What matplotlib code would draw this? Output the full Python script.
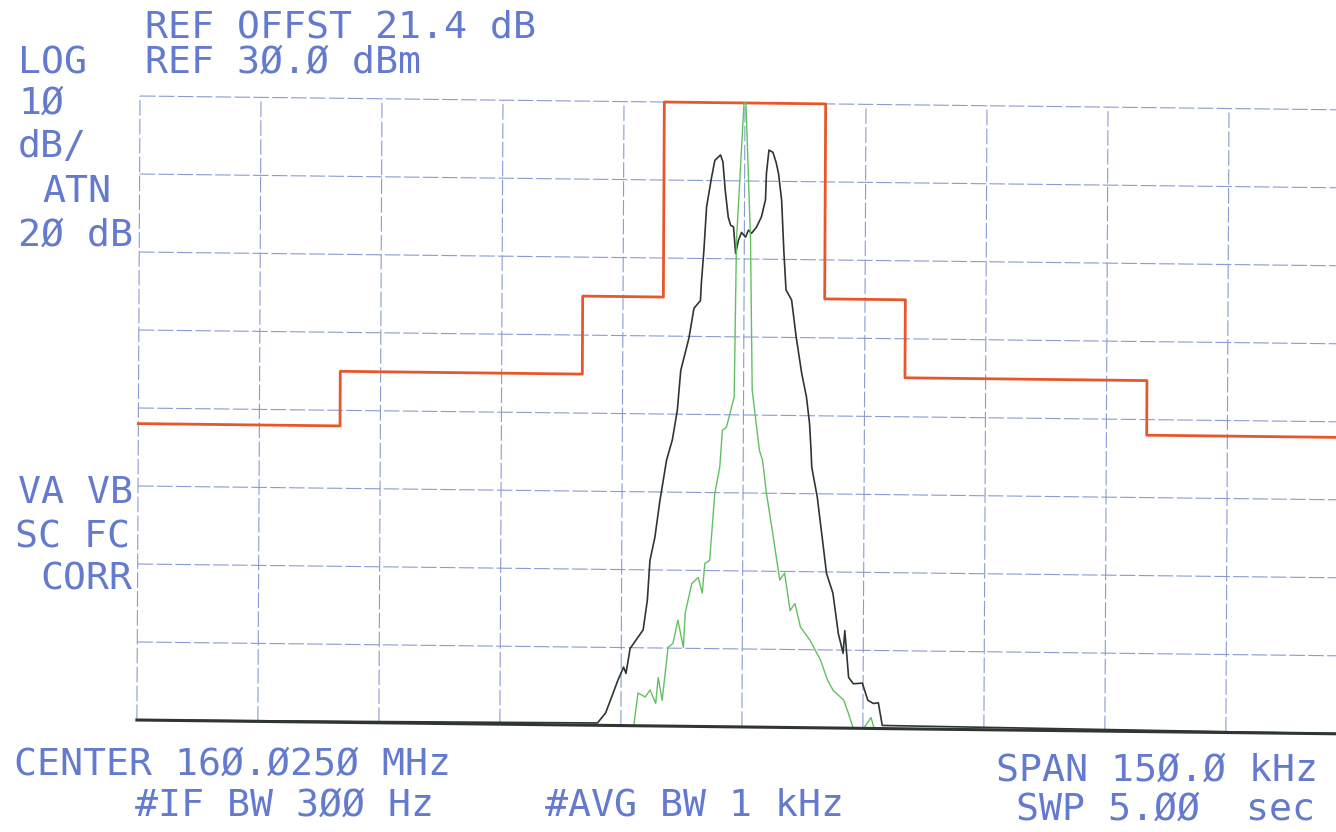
import numpy as np
import matplotlib
matplotlib.use("Agg")
import matplotlib.pyplot as plt
from matplotlib.transforms import Affine2D

# spectrum analyser screen: 150 kHz span, 10 dB/div, ref 30 dBm
mask_edges = [-75, -50, -20, -10, 10, 20, 50, 75]
mask_levels = [-12, -5, 5, 30, 5, -5, -12]

black_f = [-75, -17.9, -16.9, -16.0, -15.4, -14.7, -14.4, -13.9, -12.3, -11.8, -11.5, -10.9,
           -10.3, -9.5, -8.8, -8.2, -7.8, -6.8, -6.2, -5.4, -5.3, -5.0, -4.7, -4.1, -3.7,
           -3.0, -2.7, -2.4, -2.0, -1.7, -1.35, -1.07, -0.72, -0.35, 0.15, 0.51, 0.89, 1.5,
           2.1, 2.6, 2.7, 3.0, 3.5, 3.9, 4.2, 4.6, 4.9, 5.2, 5.9, 6.5, 7.2, 7.8, 8.2, 8.4,
           8.5, 9.2, 10.4, 11.2, 11.9, 12.5, 12.7, 13.2, 13.8, 14.9, 15.6, 16.3, 16.9, 17.4, 75]
black_db = [-50, -49.7, -48.4, -45.9, -44.2, -42.5, -43.3, -40.1, -37.7, -33.9, -28.8, -25.8,
            -21.1, -15.9, -13.3, -9.5, -4.4, -0.2, 3.6, 4.6, 6.8, 11.1, 16.6, 20.4, 22.6,
            23.3, 22.4, 18.8, 15.3, 14.3, 14.1, 10.7, 12.4, 13.4, 12.8, 13.7, 13.3, 14.1,
            15.4, 17.6, 21.0, 24.0, 23.7, 22.4, 21.0, 17.6, 11.2, 6.1, 4.8, 0.0, -4.6, -7.6,
            -11.0, -14.4, -16.6, -20.4, -30.2, -32.7, -37.9, -40.4, -37.5, -43.5, -44.3,
            -44.2, -46.4, -46.8, -46.7, -49.6, -50]

green_f = [-75, -13.4, -12.9, -12.0, -11.4, -10.7, -10.4, -9.9, -9.2, -8.6, -8.0, -7.3, -7.1,
           -6.3, -5.5, -5.0, -4.7, -4.1, -3.5, -2.9, -2.6, -2.1, -1.16, -0.97, -0.12, 0.12,
           0.77, 1.07, 2.0, 2.4, 2.9, 3.7, 4.6, 5.2, 5.9, 6.5, 7.2, 8.4, 9.7, 10.6, 11.3,
           12.6, 13.2, 13.8, 15.1, 16.0, 16.4, 75]
green_db = [-50, -50, -45.8, -46.3, -45.4, -47.1, -43.8, -46.7, -39.9, -39.4, -36.4, -39.9,
            -35.5, -31.7, -30.9, -32.9, -29.1, -28.7, -20.1, -16.7, -12.0, -11.6, -7.7, 12.4,
            30, 30, 12.4, -6.8, -14.5, -15.8, -20.0, -25.1, -31.1, -30.2, -35.0, -34.1,
            -37.1, -38.8, -41.3, -43.9, -45.2, -46.4, -48.1, -50, -50, -48.6, -50, -50]

x_grid = np.arange(-75, 76, 15)
y_grid = np.arange(-50, 31, 10)

W, H = 1336, 832
fig = plt.figure(figsize=(W / 100, H / 100), dpi=100)
ax = fig.add_axes([140 / W, 1 - 720 / H, 1210 / W, 624 / H])
ax.set_xlim(-75, 75)
ax.set_ylim(-50, 30)
ax.axis("off")

# the printout was scanned slightly skewed
x0, y0 = 140, H - 96
skew = Affine2D().translate(-x0, -y0) + \
    Affine2D(np.array([[1, 0.005, 0], [-0.0115, 1, 0], [0, 0, 1]])) + \
    Affine2D().translate(x0, y0)
tr = ax.transData + skew

grid_col = "#8a9bd2"
for x in x_grid:
    ax.plot([x, x], [-50, 30], color=grid_col, lw=0.8, ls=(0, (14, 3)),
            transform=tr, clip_on=False)
for y in y_grid:
    ax.plot([-75, 75], [y, y], color=grid_col, lw=0.8, ls=(0, (14, 3)),
            transform=tr, clip_on=False)

mx = mask_edges
my = mask_levels + [mask_levels[-1]]
ax.plot(mx, my, drawstyle="steps-post", color="#e8562c", lw=2.0,
        transform=tr, clip_on=False)
ax.plot(black_f, black_db, color="#2f3632", lw=1.2, transform=tr, clip_on=False)
ax.plot(green_f, green_db, color="#62c062", lw=1.0, transform=tr, clip_on=False)
ax.plot([-75, 75], [-50, -50], color="#2f3632", lw=2.2, transform=tr, clip_on=False)

txt = dict(color="#637ace", family="DejaVu Sans Mono", fontsize=27.5, va="center", ha="left")
labels = [
    (145, 27, "REF OFFST 21.4 dB"),
    (18, 63, "LOG"),
    (145, 63, "REF 3Ø.Ø dBm"),
    (18, 104, "1Ø"),
    (18, 147, "dB/"),
    (42, 192, "ATN"),
    (18, 236, "2Ø dB"),
    (18, 493, "VA VB"),
    (15, 537, "SC FC"),
    (40, 580, "CORR"),
    (14, 765, "CENTER 16Ø.Ø25Ø MHz"),
    (135, 806, "#IF BW 3ØØ Hz"),
    (545, 806, "#AVG BW 1 kHz"),
    (996, 771, "SPAN 15Ø.Ø kHz"),
    (1016, 810, "SWP 5.ØØ  sec"),
]
for px, py, s in labels:
    fig.text(px / W, 1 - py / H, s, **txt)

fig.savefig("out.png", dpi=100)
